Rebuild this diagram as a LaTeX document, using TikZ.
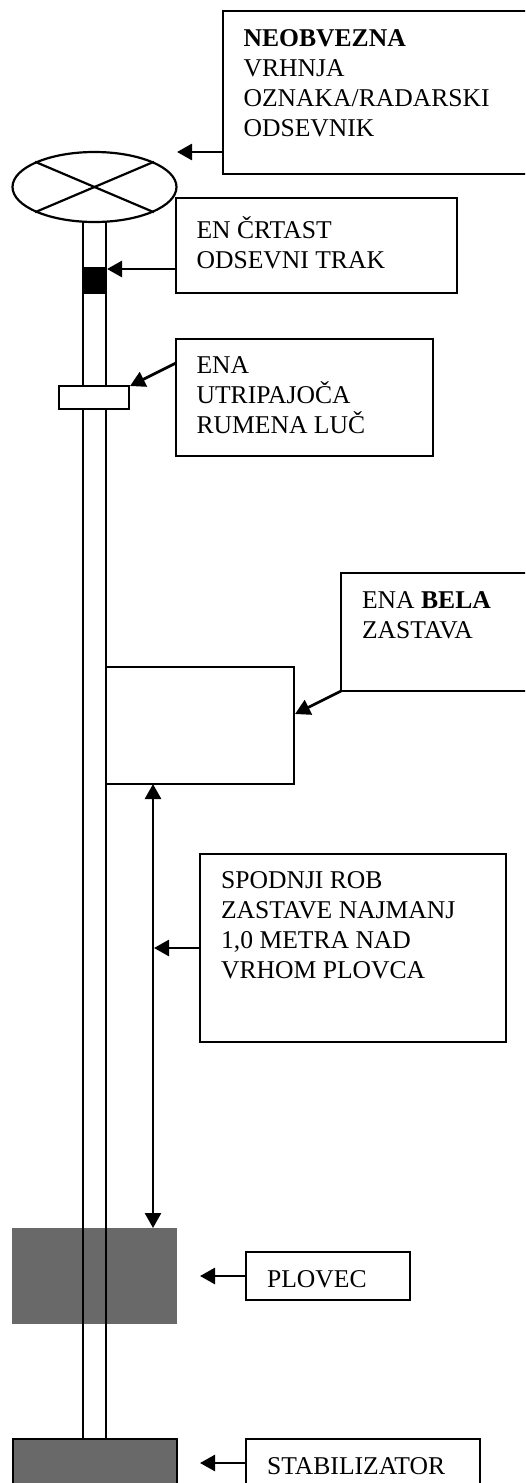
\documentclass[tikz,border=0pt]{standalone}
\usepackage{fontspec}
\setmainfont{Liberation Serif}
\usetikzlibrary{arrows.meta,shapes.geometric}
\definecolor{floatgray}{HTML}{696969}

\begin{document}
\begin{tikzpicture}[x=1pt,y=-1pt,line width=2.2pt,
 plate/.style={anchor=north west,rectangle,draw=black,fill=white,inner sep=0pt,outer sep=0pt},
 mass/.style={plate,fill=floatgray},
 caption/.style={anchor=north west,align=left,inner sep=0pt,font=\fontsize{25.6}{30}\selectfont,
   execute at begin node={\rule{0pt}{18pt}}},
 pointer/.style={line width=2.7pt,-{Triangle[length=15pt,width=16pt]}},
 span/.style={line width=2.7pt,{Triangle[length=15pt,width=16pt]}-{Triangle[length=15pt,width=16pt]}}]
 \path[use as bounding box,clip] (0,0) rectangle (525,1483);
 % float and stabilizer
 \node[mass,draw=none,minimum width=165pt,minimum height=96pt] (plovec) at (12,1228) {};
 \node[mass,minimum width=164pt,minimum height=60pt] (stab) at (13,1439) {};
 % pole
 \coordinate (poleLtop) at (83,215);
 \coordinate (poleRtop) at (106,215);
 \draw (poleLtop)--(poleLtop |- stab.north);
 \draw (poleRtop)--(poleRtop |- stab.north);
 % top mark
 \node[ellipse,draw=black,fill=white,inner sep=0pt,minimum width=164pt,minimum height=70pt] (mark) at (94.5,187) {};
 \draw (mark.157)--(mark.337);
 \draw (mark.23)--(mark.203);
 % parts on the pole
 \node[plate,fill=black,minimum width=23pt,minimum height=25pt] (strip) at (83,268) {};
 \node[plate,minimum width=70pt,minimum height=23pt] (lamp) at (59,386) {};
 \node[plate,minimum width=188pt,minimum height=117pt] (flag) at (106,667) {};
 % boxes
 \node[plate,minimum width=320pt,minimum height=163pt] (boxTop) at (223,11) {};
 \node[plate,minimum width=281pt,minimum height=95pt] (boxStrip) at (176,198) {};
 \node[plate,minimum width=257pt,minimum height=117pt] (boxLamp) at (176,339) {};
 \node[plate,minimum width=200pt,minimum height=118pt] (boxFlag) at (341,573) {};
 \node[plate,minimum width=306pt,minimum height=188pt] (boxGap) at (200,854) {};
 \node[plate,minimum width=164pt,minimum height=48pt] (boxFloat) at (246,1252) {};
 \node[plate,minimum width=234pt,minimum height=48pt] (boxStab) at (246,1439) {};
 % texts
 \node[caption] (txtTop) at (242.5,28) {\textbf{NEOBVEZNA}\\VRHNJA\\OZNAKA/RADARSKI\\ODSEVNIK};
 \node[caption] (txtStrip) at (195.5,215) {EN ČRTAST\\ODSEVNI TRAK};
 \node[caption] (txtLamp) at (195.5,355) {ENA\\UTRIPAJOČA\\RUMENA LUČ};
 \node[caption] (txtFlag) at (361,590) {ENA \textbf{BELA}\\ZASTAVA};
 \node[caption] (txtGap) at (220,870) {SPODNJI ROB\\ZASTAVE NAJMANJ\\1,0 METRA NAD\\VRHOM PLOVCA};
 \node[caption] (txtFloat) at (266,1268) {PLOVEC};
 \node[caption] (txtStab) at (266,1455) {STABILIZATOR};
 % pointers
 \coordinate (tipTop) at (177,152);
 \coordinate (tipStrip) at (107,269);
 \coordinate (tailLamp) at (176,363);
 \coordinate (tipLamp) at (130,386);
 \coordinate (tipFlag) at (295,714);
 \coordinate (tipGap) at (154,948);
 \coordinate (tipFloat) at (200,1276);
 \coordinate (tipStab) at (200,1463);
 \draw[pointer] (boxTop.west |- tipTop)--(tipTop);
 \draw[pointer] (boxStrip.west |- tipStrip)--(tipStrip);
 \draw[pointer] (tailLamp)--(tipLamp);
 \draw[pointer] (boxFlag.south west)--(tipFlag);
 \draw[pointer] (boxGap.west)--(tipGap);
 \draw[pointer] (boxFloat.west)--(tipFloat);
 \draw[pointer] (boxStab.west)--(tipStab);
 % height of the flag above the float
 \coordinate (gapX) at (153,1000);
 \draw[span] (gapX |- flag.south)--(gapX |- plovec.north);
\end{tikzpicture}
\end{document}
